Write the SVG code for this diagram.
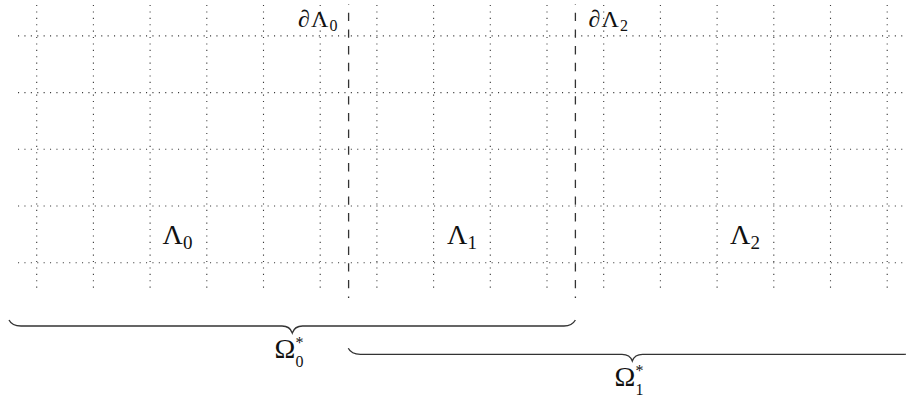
<svg xmlns="http://www.w3.org/2000/svg" width="906" height="403" viewBox="0 0 906 403">
<style>
.grid line{stroke:#3a3a3a;stroke-width:1.1;stroke-dasharray:1.1 5.3;fill:none}
.bd{stroke:#333;stroke-width:1.3;stroke-dasharray:8.4 8.3;stroke-dashoffset:8;fill:none}
.brace{stroke:#333;stroke-width:1.3;fill:none}
.lbl{font-family:"Liberation Serif","DejaVu Serif",serif;fill:#111}
</style>
<rect width="906" height="403" fill="#fff"/>
<g id="grid" class="grid">
<line x1="18" y1="35.9" x2="906" y2="35.9"/>
<line x1="18" y1="92.6" x2="906" y2="92.6"/>
<line x1="18" y1="149.3" x2="906" y2="149.3"/>
<line x1="18" y1="206" x2="906" y2="206"/>
<line x1="18" y1="262.7" x2="906" y2="262.7"/>
<line x1="36.7" y1="5" x2="36.7" y2="293"/>
<line x1="93.4" y1="5" x2="93.4" y2="293"/>
<line x1="150.1" y1="5" x2="150.1" y2="293"/>
<line x1="206.8" y1="5" x2="206.8" y2="293"/>
<line x1="263.5" y1="5" x2="263.5" y2="293"/>
<line x1="320.2" y1="5" x2="320.2" y2="293"/>
<line x1="376.9" y1="5" x2="376.9" y2="293"/>
<line x1="433.6" y1="5" x2="433.6" y2="293"/>
<line x1="490.3" y1="5" x2="490.3" y2="293"/>
<line x1="547" y1="5" x2="547" y2="293"/>
<line x1="603.7" y1="5" x2="603.7" y2="293"/>
<line x1="660.4" y1="5" x2="660.4" y2="293"/>
<line x1="717.1" y1="5" x2="717.1" y2="293"/>
<line x1="773.8" y1="5" x2="773.8" y2="293"/>
<line x1="830.5" y1="5" x2="830.5" y2="293"/>
<line x1="887.2" y1="5" x2="887.2" y2="293"/>
</g>
<g id="boundaries">
<line class="bd" x1="348.6" y1="4" x2="348.6" y2="298"/>
<line class="bd" x1="575.4" y1="4" x2="575.4" y2="298"/>
</g>
<g id="dLambda0"><text class="lbl" x="298" y="27" font-size="24">∂<tspan x="311">Λ</tspan><tspan x="329.5" y="31" font-size="16">0</tspan></text></g>
<g id="dLambda2"><text class="lbl" x="588.5" y="27" font-size="24">∂<tspan x="601.5">Λ</tspan><tspan x="620" y="31" font-size="16">2</tspan></text></g>
<g id="Lambda0"><text class="lbl" x="162.5" y="244" font-size="28">Λ<tspan x="183" y="249" font-size="19">0</tspan></text></g>
<g id="Lambda1"><text class="lbl" x="447" y="244" font-size="28">Λ<tspan x="467.5" y="249" font-size="19">1</tspan></text></g>
<g id="Lambda2"><text class="lbl" x="730" y="244" font-size="28">Λ<tspan x="750.5" y="249" font-size="19">2</tspan></text></g>
<g id="braces">
<path class="brace" d="M 9,320 Q 12,326 21,326 H 282 Q 290,326 292.3,333 Q 294.6,326 302.6,326 H 564 Q 572,326 575.4,320"/>
<path class="brace" d="M 348.3,348.3 Q 351.3,354.3 360.3,354.3 H 622 Q 630,354.3 632.3,361 Q 634.6,354.3 642.6,354.3 H 904 Q 912,354.3 916.3,348.3"/>
</g>
<g id="Omega0">
<text class="lbl" x="274.5" y="358" font-size="28">Ω</text>
<text class="lbl" x="295.5" y="348" font-size="16">*</text>
<text class="lbl" x="295.5" y="367" font-size="16">0</text>
</g>
<g id="Omega1">
<text class="lbl" x="614.5" y="386" font-size="28">Ω</text>
<text class="lbl" x="635.5" y="376" font-size="16">*</text>
<text class="lbl" x="635.5" y="395" font-size="16">1</text>
</g>
</svg>
